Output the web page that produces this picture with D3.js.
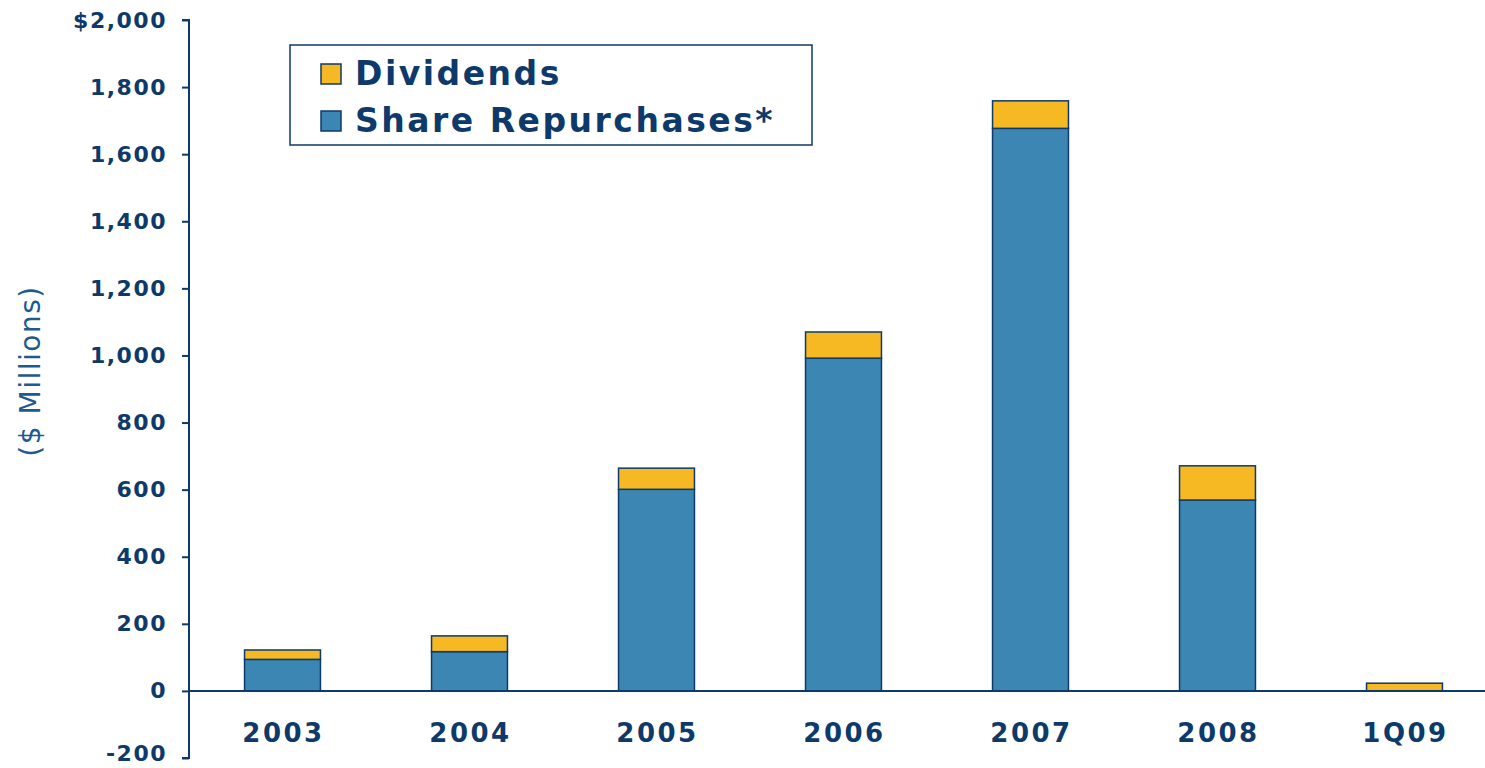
<!DOCTYPE html>
<html>
<head>
<meta charset="utf-8">
<script src="https://cdn.jsdelivr.net/npm/d3@7"></script>
<style>
  body { margin: 0; background: #fff; }
  text { font-family: "DejaVu Sans", Verdana, sans-serif; }
</style>
</head>
<body>
<div id="chart"></div>
<script>
// values ($ millions)
var periods = ["2003", "2004", "2005", "2006", "2007", "2008", "1Q09"];
var repurchases = [94, 117, 601, 992, 1677, 569, 0];
var dividends = [28, 47, 63, 78, 82, 102, 23];
var yTicks = [-200, 0, 200, 400, 600, 800, 1000, 1200, 1400, 1600, 1800, 2000];
var seriesNames = ["Dividends", "Share Repurchases*"];
var colors = {gold: "#f6b924", blue: "#3b86b3", navy: "#0d3a6a"};

var W = 1485, H = 768;
var svg = d3.select("#chart").append("svg")
    .attr("width", W).attr("height", H);

var axisX = 189;
var y = d3.scaleLinear().domain([-200, 2000]).range([758, 20]);
var x = d3.scaleBand().domain(periods)
    .range([axisX, axisX + 7 * 187])
    .paddingInner(0.594).paddingOuter(0.297);

// bars
var rows = periods.map(function(p, i) {
    return {period: p, rep: repurchases[i], div: dividends[i]};
});
var bars = svg.append("g");
rows.forEach(function(d) {
    if (d.rep > 0) {
        bars.append("rect")
            .attr("x", x(d.period)).attr("width", x.bandwidth())
            .attr("y", y(d.rep)).attr("height", y(0) - y(d.rep))
            .attr("fill", colors.blue)
            .attr("stroke", colors.navy).attr("stroke-width", 1.5);
    }
    bars.append("rect")
        .attr("x", x(d.period)).attr("width", x.bandwidth())
        .attr("y", y(d.rep + d.div)).attr("height", y(d.rep) - y(d.rep + d.div))
        .attr("fill", colors.gold)
        .attr("stroke", colors.navy).attr("stroke-width", 1.5);
});

// y axis (plain hyphen for the negative tick, like the original)
var fmt = d3.format(",");
var yAxis = d3.axisLeft(y).tickValues(yTicks).tickSize(7).tickPadding(15)
    .tickFormat(function(d) {
        if (d === 2000) return "$" + fmt(d);
        return (d < 0 ? "-" : "") + fmt(Math.abs(d));
    });
var gy = svg.append("g").attr("transform", "translate(" + axisX + ",0)").call(yAxis);
gy.select(".domain").attr("stroke", colors.navy).attr("stroke-width", 2)
    .attr("d", "M-7," + y(2000) + "H0V" + y(-200) + "H-7");
gy.selectAll(".tick line").attr("stroke", colors.navy).attr("stroke-width", 2);
gy.selectAll(".tick text")
    .attr("fill", colors.navy).attr("font-size", 22).attr("font-weight", "bold")
    .attr("letter-spacing", 1.5)
    .style("font-family", "'DejaVu Sans', Verdana, sans-serif");
// keep the bottom label inside the page
gy.selectAll(".tick text").filter(function(d) { return d < 0; })
    .attr("dy", "0.1em");

// zero line
svg.append("line")
    .attr("x1", axisX).attr("x2", W)
    .attr("y1", y(0)).attr("y2", y(0))
    .attr("stroke", colors.navy).attr("stroke-width", 2);

// x labels
svg.append("g").selectAll("text")
    .data(periods).enter().append("text")
    .attr("x", function(d) { return x(d) + x.bandwidth() / 2 + 1; })
    .attr("y", 742)
    .attr("text-anchor", "middle")
    .attr("fill", colors.navy).attr("font-size", 26).attr("font-weight", "bold")
    .attr("letter-spacing", 2.5)
    .text(function(d) { return d; });

// y title
svg.append("text")
    .attr("transform", "translate(40,371) rotate(-90)")
    .attr("text-anchor", "middle")
    .attr("fill", "#1d5a91").attr("font-size", 28)
    .attr("letter-spacing", 1.5)
    .text("($ Millions)");

// legend
var lg = svg.append("g");
lg.append("rect")
    .attr("x", 290).attr("y", 45).attr("width", 522).attr("height", 100)
    .attr("fill", "#fff").attr("stroke", colors.navy).attr("stroke-width", 1.5);
var legendColors = [colors.gold, colors.blue];
seriesNames.forEach(function(name, i) {
    var cy = 74 + i * 47;
    lg.append("rect")
        .attr("x", 321).attr("y", cy - 10).attr("width", 20).attr("height", 20)
        .attr("fill", legendColors[i]).attr("stroke", colors.navy).attr("stroke-width", 1.5);
    lg.append("text")
        .attr("x", 355).attr("y", cy + 11)
        .attr("fill", colors.navy).attr("font-size", 33).attr("font-weight", "bold")
        .attr("letter-spacing", 2.5)
        .text(name);
});
</script>
</body>
</html>
